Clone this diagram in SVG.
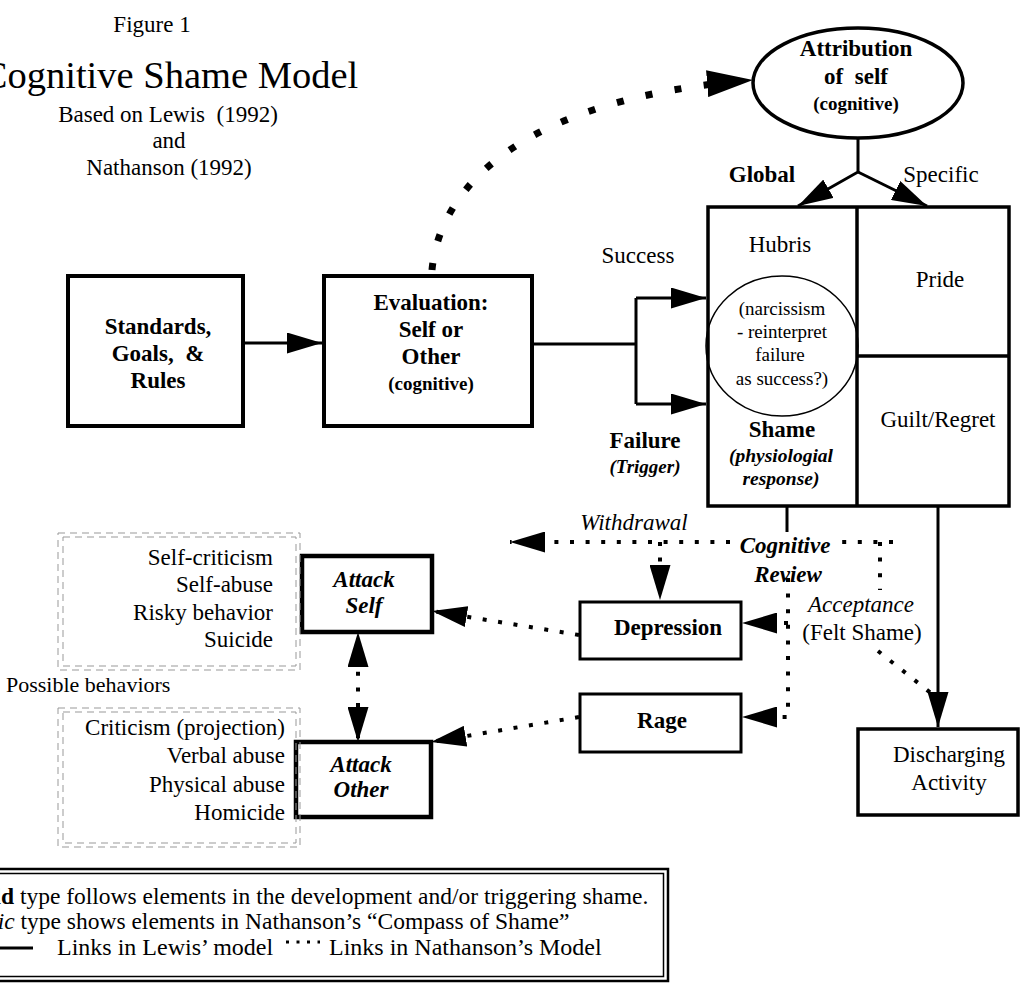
<svg xmlns="http://www.w3.org/2000/svg" width="1024" height="983" viewBox="0 0 1024 983">
<style>
.t{font-family:"Liberation Serif","Times New Roman",serif;font-size:23px;fill:#000}
.b{font-weight:bold}
.i{font-style:italic}
.s{font-size:19px}
.c{text-anchor:middle}
.r{text-anchor:end}
.pre{white-space:pre}
.box{fill:#fff;stroke:#000}
.solid{stroke:#000;stroke-width:3;fill:none}
.dot{stroke:#000;stroke-width:4;fill:none;stroke-dasharray:4 11.6}
.bigdot{stroke:#000;stroke-width:7;fill:none;stroke-dasharray:7 22.5}
.dash{stroke:#999;stroke-width:1;fill:none;stroke-dasharray:7 5}
</style>
<defs>
<marker id="ah" markerUnits="userSpaceOnUse" markerWidth="35" markerHeight="21" viewBox="0 0 35 21" refX="35" refY="10.5" orient="auto"><path d="M0,0 L35,10.5 L0,21 Z" fill="#000"/></marker>
<marker id="ah2" markerUnits="userSpaceOnUse" markerWidth="35" markerHeight="21" viewBox="0 0 35 21" refX="35" refY="10.5" orient="auto-start-reverse"><path d="M0,0 L35,10.5 L0,21 Z" fill="#000"/></marker>
<marker id="ahBig" markerUnits="userSpaceOnUse" markerWidth="46" markerHeight="27" viewBox="0 0 46 27" refX="46" refY="13.5" orient="auto"><path d="M0,0 L46,13.5 L0,27 Z" fill="#000"/></marker>
</defs>
<rect width="1024" height="983" fill="#fff"/>

<g id="title">
<text class="t c" x="152" y="32">Figure 1</text>
<text class="t c" x="170" y="88" style="font-size:38.5px">Cognitive Shame Model</text>
<text class="t c pre" x="168" y="122">Based on Lewis  (1992)</text>
<text class="t c" x="169" y="148">and</text>
<text class="t c" x="169" y="175">Nathanson (1992)</text>
</g>

<g id="node-standards">
<rect class="box" x="68" y="276" width="175" height="150" stroke-width="4"/>
<text class="t b c" x="158" y="334">Standards,</text>
<text class="t b c pre" x="158" y="361">Goals,  &amp;</text>
<text class="t b c" x="158" y="388">Rules</text>
</g>

<g id="node-evaluation">
<rect class="box" x="324" y="276" width="208" height="150" stroke-width="4"/>
<text class="t b c" x="431" y="310">Evaluation:</text>
<text class="t b c" x="431" y="337">Self or</text>
<text class="t b c" x="431" y="364">Other</text>
<text class="t b c s" x="431" y="390">(cognitive)</text>
</g>

<g id="node-attribution">
<ellipse cx="858" cy="83" rx="105" ry="55" fill="#fff" stroke="#000" stroke-width="3.5"/>
<text class="t b c" x="856" y="56">Attribution</text>
<text class="t b c pre" x="856" y="84">of  self</text>
<text class="t b c s" x="856" y="110">(cognitive)</text>
</g>

<g id="node-emotions">
<rect class="box" x="708" y="207" width="301" height="299" stroke-width="3.5"/>
<line x1="857" y1="207" x2="857" y2="506" stroke="#000" stroke-width="3.5"/>
<line x1="857" y1="356" x2="1009" y2="356" stroke="#000" stroke-width="3.5"/>
<ellipse cx="782" cy="346" rx="76" ry="70" fill="none" stroke="#000" stroke-width="1.5"/>
<text class="t c" x="780" y="252">Hubris</text>
<text class="t c" x="782" y="315" style="font-size:19px">(narcissism</text>
<text class="t c" x="782" y="338" style="font-size:19px">- reinterpret</text>
<text class="t c" x="780" y="361" style="font-size:19px">failure</text>
<text class="t c" x="782" y="385" style="font-size:19px">as success?)</text>
<text class="t b c" x="782" y="437">Shame</text>
<text class="t b i c" x="781" y="462" style="font-size:19.5px">(physiologial</text>
<text class="t b i c" x="781" y="485" style="font-size:19.5px">response)</text>
<text class="t c" x="940" y="287">Pride</text>
<text class="t c" x="938" y="427">Guilt/Regret</text>
</g>

<g id="node-depression">
<rect class="box" x="580" y="602" width="161" height="57" stroke-width="3"/>
<text class="t b c" x="668" y="635">Depression</text>
</g>

<g id="node-rage">
<rect class="box" x="580" y="694" width="161" height="58" stroke-width="3"/>
<text class="t b c" x="662" y="728">Rage</text>
</g>

<g id="node-discharging">
<rect class="box" x="858" y="729" width="160" height="86" stroke-width="3.5"/>
<text class="t c" x="949" y="762">Discharging</text>
<text class="t c" x="949" y="790">Activity</text>
</g>

<g id="node-attack-self">
<rect class="box" x="302" y="556" width="130" height="76" stroke-width="4.5"/>
<text class="t b i c" x="364" y="587">Attack</text>
<text class="t b i c" x="364" y="613">Self</text>
</g>

<g id="node-attack-other">
<rect class="box" x="296" y="742" width="135" height="75" stroke-width="4.5"/>
<text class="t b i c" x="361" y="772">Attack</text>
<text class="t b i c" x="361" y="797">Other</text>
</g>

<g id="node-self-behaviors">
<rect class="dash" x="58" y="533" width="242" height="137"/>
<rect class="dash" x="63" y="537" width="233" height="129"/>
<text class="t r" x="273" y="565">Self-criticism</text>
<text class="t r" x="273" y="592">Self-abuse</text>
<text class="t r" x="273" y="620">Risky behavior</text>
<text class="t r" x="273" y="647">Suicide</text>
</g>

<g id="node-possible">
<text class="t" x="6" y="692" style="font-size:22px">Possible behaviors</text>
</g>

<g id="node-other-behaviors">
<rect class="dash" x="58" y="708" width="242" height="139"/>
<rect class="dash" x="63" y="712" width="233" height="131"/>
<text class="t r" x="285" y="735">Criticism (projection)</text>
<text class="t r" x="285" y="763">Verbal abuse</text>
<text class="t r" x="285" y="792">Physical abuse</text>
<text class="t r" x="285" y="820">Homicide</text>
</g>

<g id="connectors">
<path class="solid" d="M242,343 H322" marker-end="url(#ah)"/>
<path class="solid" d="M532,344 H636 M636,298 V404"/>
<path class="solid" d="M636,298 H706" marker-end="url(#ah)"/>
<path class="solid" d="M636,404 H706" marker-end="url(#ah)"/>
<path class="solid" d="M858,138 V172 L798,206" marker-end="url(#ah)"/>
<path class="solid" d="M858,172 L927,206" marker-end="url(#ah)"/>
<path class="solid" d="M787,507 V532"/>
<path class="solid" d="M938,507 V727" marker-end="url(#ah)"/>
<path class="bigdot" d="M432,270 C440,185 525,98 753,80" marker-end="url(#ahBig)"/>
<path class="dot" d="M893,542 H841 M730,542 H510" marker-end="url(#ah)"/>
<path class="dot" d="M660,542 V600" marker-end="url(#ah)"/>
<path class="dot" d="M880,542 V590"/>
<path class="dot" d="M878,651 L932,694"/>
<path class="dot" d="M788,578 V717 H742" marker-end="url(#ah)"/>
<path class="dot" d="M788,623 H742" marker-end="url(#ah)"/>
<path class="dot" d="M579,635 L432,611" marker-end="url(#ah)"/>
<path class="dot" d="M579,717 L431,742" marker-end="url(#ah)"/>
<path class="dot" d="M358,632 V742" style="stroke-dashoffset:7" marker-start="url(#ah2)" marker-end="url(#ah2)"/>
</g>

<g id="labels">
<text class="t c" x="638" y="263">Success</text>
<text class="t b c" x="645" y="448">Failure</text>
<text class="t b i c s" x="645" y="473">(Trigger)</text>
<text class="t b c" x="762" y="182">Global</text>
<text class="t c" x="941" y="182">Specific</text>
<text class="t i c" x="634" y="530">Withdrawal</text>
<text class="t b i c" x="785" y="553">Cognitive</text>
<text class="t b i c" x="788" y="582">Review</text>
<text class="t i c" x="861" y="612">Acceptance</text>
<text class="t c" x="862" y="640">(Felt Shame)</text>
</g>

<g id="legend">
<rect x="-10" y="869" width="678" height="112" fill="none" stroke="#000" stroke-width="2.5"/>
<rect x="-10" y="873.5" width="673.5" height="103" fill="none" stroke="#000" stroke-width="1.5"/>
<text class="t" x="-33" y="904" style="font-size:23.5px"><tspan class="b">Bold</tspan> type follows elements in the development and/or triggering shame.</text>
<text class="t" x="-35" y="929" style="font-size:23.5px"><tspan class="i">Italic</tspan> type shows elements in Nathanson’s “Compass of Shame”</text>
<line x1="0" y1="948" x2="33" y2="948" stroke="#000" stroke-width="3"/>
<text class="t" x="57" y="955" style="font-size:24px">Links in Lewis’ model</text>
<line x1="286" y1="942" x2="320" y2="942" stroke="#000" stroke-width="3" stroke-dasharray="3 7.5"/>
<text class="t" x="329" y="955" style="font-size:24px">Links in Nathanson’s Model</text>
</g>
</svg>
